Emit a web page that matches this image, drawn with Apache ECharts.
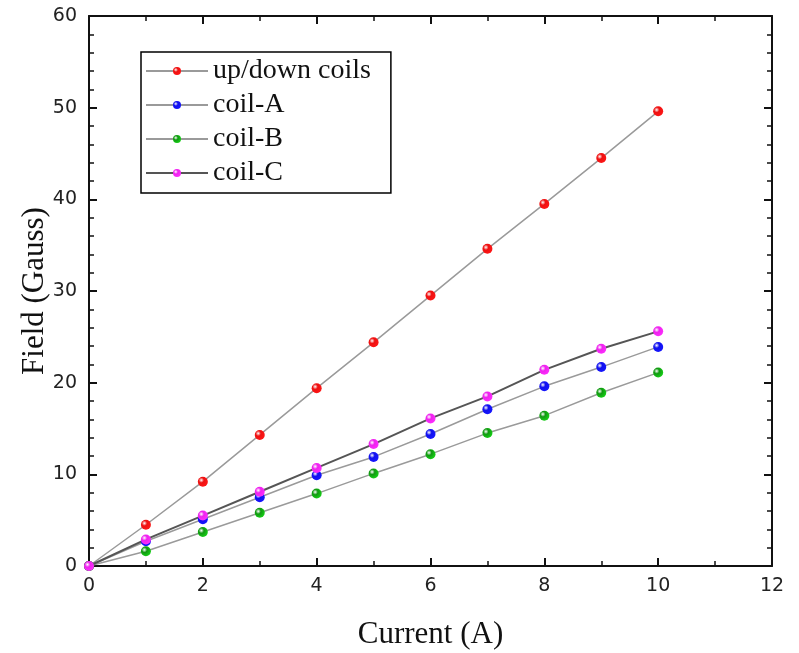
<!DOCTYPE html>
<html>
<head>
<meta charset="utf-8">
<script src="https://cdn.jsdelivr.net/npm/echarts@6/dist/echarts.min.js"></script>
<style>
  html, body { margin: 0; padding: 0; background: #fff; }
  #chart { width: 799px; height: 653px; }
</style>
</head>
<body>
<div id="chart"></div>
<script>
// 数据
const current = [0, 1, 2, 3, 4, 5, 6, 7, 8, 9, 10]
const upDown = [0, 4.5, 9.2, 14.3, 19.4, 24.4, 29.5, 34.6, 39.5, 44.5, 49.6]
const coilA = [0, 2.7, 5.1, 7.5, 9.9, 11.9, 14.4, 17.1, 19.6, 21.7, 23.9]
const coilB = [0, 1.6, 3.7, 5.8, 7.9, 10.1, 12.2, 14.5, 16.4, 18.9, 21.1]
const coilC = [0, 2.9, 5.5, 8.1, 10.7, 13.3, 16.1, 18.5, 21.4, 23.7, 25.6]

const chart = echarts.init(document.getElementById('chart'))

// 小球样式
function ball(color) {
  return {
    type: 'radial', x: 0.35, y: 0.35, r: 0.75,
    colorStops: [
      { offset: 0, color: '#ffffff' },
      { offset: 0.35, color: color },
      { offset: 1, color: echarts.color.lift(color, -0.4) },
    ],
  }
}

function makeSeries(name, values, color, lineColor, width) {
  return {
    name,
    type: 'line',
    data: current.map((x, i) => [x, values[i]]),
    symbol: 'circle',
    symbolSize: 10,
    lineStyle: { color: lineColor, width },
    itemStyle: { color: ball(color), borderWidth: 0 },
    emphasis: { disabled: true },
    animation: false,
  }
}

const tickFont = { fontFamily: 'DejaVu Sans', fontSize: 19, color: '#222' }
const titleFont = { fontFamily: 'Liberation Serif', fontSize: 31, color: '#111' }
const lineDark = { color: '#111', width: 2 }
const minorStyle = { color: '#111', width: 1.5 }

const option = {
  backgroundColor: '#fff',
  grid: { left: 89, right: 27, top: 16, bottom: 87, outerBoundsMode: 'none' },
  legend: {
    orient: 'vertical',
    left: 141,
    top: 52,
    padding: [5, 20, 6, 4],
    itemGap: 6,
    itemWidth: 62,
    itemHeight: 10,
    borderColor: '#000',
    borderWidth: 1.5,
    textStyle: { fontFamily: 'Liberation Serif', fontSize: 28, color: '#111' },
    data: ['up/down coils', 'coil-A', 'coil-B', 'coil-C'],
  },
  xAxis: [
    {
      type: 'value', min: 0, max: 12, interval: 2,
      name: 'Current (A)', nameLocation: 'middle', nameGap: 53, nameMoveOverlap: false,
      nameTextStyle: titleFont,
      axisLine: { lineStyle: lineDark },
      axisTick: { inside: true, length: 8, lineStyle: lineDark },
      minorTick: { show: true, splitNumber: 2, length: 5, lineStyle: minorStyle },
      axisLabel: { ...tickFont, margin: 11 },
      splitLine: { show: false },
    },
    {
      type: 'value', min: 0, max: 12, interval: 2, position: 'top',
      axisLine: { show: true, onZero: false, lineStyle: lineDark },
      axisTick: { show: true, inside: true, length: 8, lineStyle: lineDark },
      minorTick: { show: true, splitNumber: 2, length: 5, lineStyle: minorStyle },
      axisLabel: { show: false },
      splitLine: { show: false },
    },
  ],
  yAxis: [
    {
      type: 'value', min: 0, max: 60, interval: 10,
      name: 'Field (Gauss)', nameLocation: 'middle', nameGap: 39, nameMoveOverlap: false,
      nameTextStyle: titleFont,
      axisLine: { show: true, lineStyle: lineDark },
      axisTick: { show: true, inside: true, length: 8, lineStyle: lineDark },
      minorTick: { show: true, splitNumber: 5, length: 5, lineStyle: minorStyle },
      axisLabel: { ...tickFont, margin: 12 },
      splitLine: { show: false },
    },
    {
      type: 'value', min: 0, max: 60, interval: 10, position: 'right',
      axisLine: { show: true, onZero: false, lineStyle: lineDark },
      axisTick: { show: true, inside: true, length: 8, lineStyle: lineDark },
      minorTick: { show: true, splitNumber: 5, length: 5, lineStyle: minorStyle },
      axisLabel: { show: false },
      splitLine: { show: false },
    },
  ],
  series: [
    makeSeries('up/down coils', upDown, '#ee1111', '#9a9a9a', 1.5),
    makeSeries('coil-A', coilA, '#1111ee', '#9a9a9a', 1.5),
    makeSeries('coil-B', coilB, '#119911', '#9a9a9a', 1.5),
    makeSeries('coil-C', coilC, '#ee22ee', '#555555', 2),
    // 用于显示上方和右侧的框线刻度
    { type: 'line', xAxisIndex: 1, yAxisIndex: 1, data: [], silent: true },
  ],
}

chart.setOption(option)
</script>
</body>
</html>
